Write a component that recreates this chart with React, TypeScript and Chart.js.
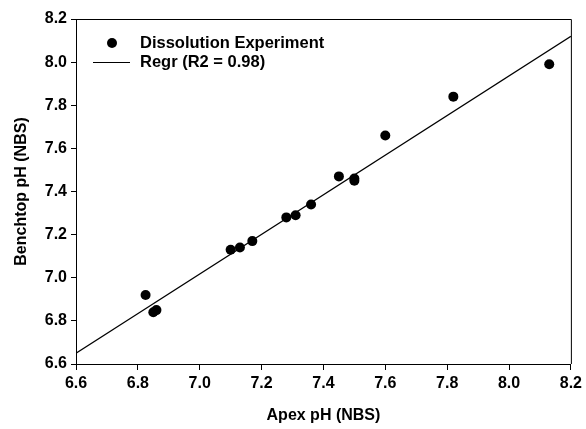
import React, { useEffect, useRef } from "react";
import { Chart, registerables } from "chart.js";

Chart.register(...registerables);

const apexX = [6.825, 6.85, 6.86, 7.10, 7.13, 7.17, 7.28, 7.31, 7.36, 7.45, 7.50, 7.50, 7.60, 7.82, 8.13];
const benchY = [6.92, 6.84, 6.85, 7.13, 7.14, 7.17, 7.28, 7.29, 7.34, 7.47, 7.45, 7.46, 7.66, 7.84, 7.99];
const regrX = [6.6, 8.2];
const regrY = [6.65, 8.12];
const seriesLabels = ["Dissolution Experiment", "Regr (R2 = 0.98)"];
const xTitle = "Apex pH (NBS)";
const yTitle = "Benchtop pH (NBS)";

const FONT = "'Liberation Sans', Arial, sans-serif";

const frameLegend = {
  id: "frameLegend",
  afterDraw(chart: any) {
    const ctx = chart.ctx;
    const a = chart.chartArea;
    ctx.save();
    ctx.strokeStyle = "#000";
    ctx.lineWidth = 1;
    ctx.beginPath();
    ctx.moveTo(a.left, a.top + 0.5);
    ctx.lineTo(a.right + 0.5, a.top + 0.5);
    ctx.lineTo(a.right + 0.5, a.bottom);
    ctx.stroke();

    // legend
    const mx = a.left + 36;
    const y1 = a.top + 24;
    const y2 = a.top + 43;
    ctx.fillStyle = "#000";
    ctx.beginPath();
    ctx.arc(mx, y1, 5, 0, Math.PI * 2);
    ctx.fill();
    ctx.beginPath();
    ctx.moveTo(a.left + 17, y2 + 0.5);
    ctx.lineTo(a.left + 54, y2 + 0.5);
    ctx.stroke();
    ctx.font = `bold 16.5px ${FONT}`;
    ctx.textBaseline = "middle";
    ctx.textAlign = "left";
    ctx.fillText(chart.data.datasets[0].label, a.left + 64, y1);
    ctx.fillText(chart.data.datasets[1].label, a.left + 64, y2);
    ctx.restore();
  },
};

export default function App() {
  const ref = useRef<HTMLCanvasElement>(null);
  useEffect(() => {
    if (!ref.current) return;
    const chart = new Chart(ref.current, {
      type: "scatter",
      data: {
        datasets: [
          {
            label: seriesLabels[0],
            data: apexX.map((x, i) => ({ x, y: benchY[i] })),
            pointRadius: 5,
            pointBackgroundColor: "#000",
            pointBorderColor: "#000",
            pointBorderWidth: 0,
          },
          {
            type: "line",
            label: seriesLabels[1],
            data: regrX.map((x, i) => ({ x, y: regrY[i] })),
            showLine: true,
            pointRadius: 0,
            borderColor: "#000",
            borderWidth: 1.2,
          } as any,
        ],
      },
      options: {
        responsive: false,
        animation: false,
        layout: { padding: { top: 19, right: 15, left: 0, bottom: 0 } },
        plugins: { legend: { display: false }, tooltip: { enabled: false } },
        scales: {
          x: {
            type: "linear",
            min: 6.6,
            max: 8.2,
            afterFit: (s: any) => { s.height = 65; },
            ticks: {
              stepSize: 0.2,
              color: "#000",
              padding: 4,
              font: { family: FONT, size: 16, weight: "bold" },
              callback: (v: any) => Number(v).toFixed(1),
            },
            grid: { drawOnChartArea: false, drawTicks: true, tickLength: 6, color: "#000" },
            border: { display: true, color: "#000", width: 1 },
            title: {
              display: true,
              text: xTitle,
              color: "#000",
              font: { family: FONT, size: 16, weight: "bold" },
              padding: { top: 0, bottom: 4 },
            },
          },
          y: {
            type: "linear",
            min: 6.6,
            max: 8.2,
            afterFit: (s: any) => { s.width = 76; },
            ticks: {
              stepSize: 0.2,
              color: "#000",
              padding: 4,
              font: { family: FONT, size: 16, weight: "bold" },
              callback: (v: any) => Number(v).toFixed(1),
            },
            grid: { drawOnChartArea: false, drawTicks: true, tickLength: 5, color: "#000" },
            border: { display: true, color: "#000", width: 1 },
            title: {
              display: true,
              text: yTitle,
              color: "#000",
              font: { family: FONT, size: 16, weight: "bold" },
              padding: { top: 12, bottom: 0 },
            },
          },
        },
      },
      plugins: [frameLegend],
    });
    return () => chart.destroy();
  }, []);
  return (
    <div style={{ position: "absolute", left: 0, top: 0, width: 586, height: 429, background: "#fff" }}>
      <canvas ref={ref} width={586} height={429} />
    </div>
  );
}
